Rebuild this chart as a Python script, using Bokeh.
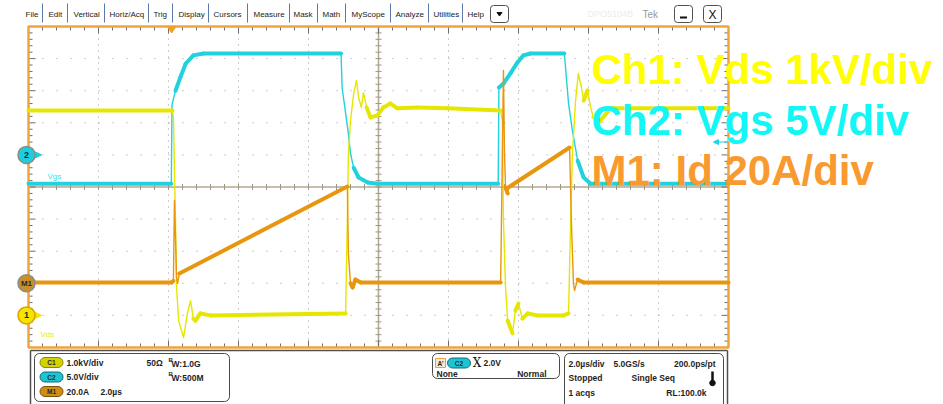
import numpy as np
from bokeh.plotting import figure
from bokeh.models import Range1d
from bokeh.embed import file_html
from bokeh.resources import INLINE
from bokeh.core.properties import value

# ---------------- acquired waveforms (time in µs) ----------------
# Ch1: drain-source voltage, kV
vds_t = [0.00, 4.11, 4.14, 4.20, 4.23, 4.29, 4.43, 4.54, 4.63, 4.71, 4.77, 4.91, 5.20,
         9.06, 9.11, 9.14, 9.20, 9.29, 9.37, 9.43, 9.51, 9.57, 9.66, 9.77, 9.97, 10.14,
         10.34, 10.54, 11.11, 11.97, 13.49, 13.54, 13.57, 13.63, 13.69, 13.83, 13.91,
         14.00, 14.11, 14.26, 14.54, 15.29, 15.43, 15.49, 15.54, 15.63, 15.71, 15.80,
         15.86, 15.97, 16.06, 16.14, 16.34, 16.63, 20.00]
vds_kv = [6.38, 6.38, 6.17, 2.96, 0.87, -0.16, -0.69, 0.06, 0.46, -0.10, -0.16, 0.06, 0.00,
          0.06, 2.96, 5.04, 6.07, 6.91, 7.32, 6.79, 6.48, 6.94, 6.48, 6.17, 6.23, 6.48,
          6.60, 6.45, 6.48, 6.45, 6.38, 6.07, 2.96, 0.87, -0.16, -0.56, 0.15,
          0.37, -0.10, 0.06, 0.00, 0.00, 0.06, 2.96, 5.04, 6.69, 7.54, 7.10,
          6.69, 7.01, 6.48, 6.17, 6.07, 6.45, 6.45]

# Ch2: gate-source voltage, V
vgs_t = [0.00, 4.08, 4.10, 4.20, 4.34, 4.49, 4.71, 5.00, 8.93, 8.96, 9.06, 9.14, 9.20,
         9.29, 9.43, 9.69, 9.97, 13.42, 13.44, 13.57, 13.77, 13.97, 14.14, 14.34, 15.31,
         15.43, 15.54, 15.69, 15.86, 16.06, 20.00]
vgs_v = [-4.5, -4.5, 7.8, 10.0, 12.1, 14.2, 15.5, 15.8, 15.8, 10.5, 6.5, 3.3, 0.2,
         -2.0, -3.5, -4.3, -4.5, -4.5, 10.5, 11.1, 12.7, 14.4, 15.5, 15.8, 15.8,
         8.0, 3.8, -0.9, -3.5, -4.5, -4.5]

# M1: drain current, A
id_t = [0.00, 4.09, 4.14, 4.17, 4.20, 4.23, 4.26, 4.31, 9.11, 9.14, 9.20, 9.26, 9.34,
        9.49, 13.49, 13.57, 13.60, 13.63, 13.69, 13.71, 15.46, 15.51, 15.57, 15.60,
        15.69, 15.86, 20.00]
id_a = [0.5, 0.5, 1.5, 51.6, 28.5, 3.6, 0.0, 6.1, 60.3, 18.6, 0.0, -2.6, 2.3,
        0.5, 0.5, 132.6, 80.9, 59.7, 56.0, 59.7, 84.6, 39.1, 0.0, -4.5,
        2.3, 0.5, 0.5]

# ---------------- scope settings ----------------
TIME_PER_DIV = 2.0                      # µs/div
CH1_SCALE, CH1_POS = 1.0, -4.0          # kV/div, ground position (div)
CH2_SCALE, CH2_POS = 5.0, 1.0           # V/div
M1_SCALE, M1_POS = 20.0, -3.0           # A/div
TRIG_TIME, TRIG_LEVEL = 4.09, 2.0       # µs, V on Ch2

legend_lines = ["Ch1: Vds 1kV/div", "Ch2: Vgs 5V/div", "M1: Id 20A/div"]

menu_items = ["File", "Edit", "Vertical", "Horiz/Acq", "Trig", "Display", "Cursors",
              "Measure", "Mask", "Math", "MyScope", "Analyze", "Utilities", "Help"]

# ---------------- screen geometry ----------------
W, H = 943, 404
GX0, GY0 = 28.0, 186.5                  # graticule left edge / centre line (px)
PX_DIV_X, PX_DIV_Y = 70.0, 32.1
px_us = PX_DIV_X / TIME_PER_DIV

x_lo, x_hi = -GX0 / px_us, (W - GX0) / px_us
y_lo, y_hi = -(H - GY0) / PX_DIV_Y, GY0 / PX_DIV_Y

p = figure(width=W, height=H, output_backend="svg", toolbar_location=None,
           x_range=Range1d(x_lo, x_hi), y_range=Range1d(y_lo, y_hi),
           x_axis_type=None, y_axis_type=None, min_border=0,
           outline_line_color=None, background_fill_color="white",
           border_fill_color="white")
p.extra_x_ranges = {"px": Range1d(0, W)}
p.extra_y_ranges = {"px": Range1d(H, 0)}
PX = dict(x_range_name="px", y_range_name="px")

def dx(n):
    return n / px_us

def dy(n):
    return n / PX_DIV_Y

def label(x, y, s, size=8.5, color="#1e1e1e", style="bold", align="left",
          baseline="middle", font="Liberation Sans", **kw):
    opts = dict(PX)
    opts.update(kw)
    p.text(x=[x], y=[y], text=[s], text_font=value(font),
           text_font_size=f"{size}px", text_font_style=style, text_color=color,
           text_align=align, text_baseline=baseline, **opts)

# ---------------- graticule ----------------
t_end = 10 * TIME_PER_DIV
grid_t = [k * TIME_PER_DIV for k in range(1, 10) if k != 5]
grid_y = [k for k in range(-4, 5) if k != 0]
p.multi_line(xs=[[t, t] for t in grid_t], ys=[[5, -5]] * len(grid_t),
             line_color="#9a9a9a", line_width=1, line_dash="1 5")
p.multi_line(xs=[[0, t_end]] * len(grid_y), ys=[[y, y] for y in grid_y],
             line_color="#9a9a9a", line_width=1, line_dash="1 13")

# centre cross with fine ticks
p.segment(x0=[0, t_end / 2], y0=[0, -5], x1=[t_end, t_end / 2], y1=[0, 5],
          line_color="#b0a796", line_width=1.5)
minor_t = np.arange(0, t_end + 1e-9, TIME_PER_DIV / 5)
minor_y = np.arange(-5, 5 + 1e-9, 0.2)
p.segment(x0=minor_t, y0=-dy(3), x1=minor_t, y1=dy(3), line_color="#a09684", line_width=1)
p.segment(x0=t_end / 2 - dx(3), y0=minor_y, x1=t_end / 2 + dx(3), y1=minor_y,
          line_color="#a09684", line_width=1)

# edge ticks (longer on the division marks)
def is_major(v, step):
    return abs(v / step - round(v / step)) < 1e-6

len_t = np.array([7 if is_major(t, TIME_PER_DIV) else 4 for t in minor_t])
len_y = np.array([7 if is_major(y, 1.0) else 4 for y in minor_y])
tick_col = "#6e6e6e"
p.segment(x0=minor_t, y0=5, x1=minor_t, y1=5 - dy(len_t), line_color=tick_col)
p.segment(x0=minor_t, y0=-5, x1=minor_t, y1=-5 + dy(len_t), line_color=tick_col)
p.segment(x0=0, y0=minor_y, x1=dx(len_y), y1=minor_y, line_color=tick_col)
p.segment(x0=t_end, y0=minor_y, x1=t_end - dx(len_y), y1=minor_y, line_color=tick_col)

# orange frame
p.quad(left=[0], right=[t_end], top=[5], bottom=[-5], fill_color=None,
       line_color="#f0a43a", line_width=2.5)

# ---------------- traces ----------------
vgs_div = [v / CH2_SCALE + CH2_POS for v in vgs_v]
vds_div = [v / CH1_SCALE + CH1_POS for v in vds_kv]
id_div = [v / M1_SCALE + M1_POS for v in id_a]

def trace(t, y, color):
    # fast edges are drawn thin, settled / slow parts as a wider noise band
    p.line(t, y, line_color=color, line_width=1.4, line_join="round")
    xs, ys = [], []
    for i in range(len(t) - 1):
        w = (t[i + 1] - t[i]) * px_us
        h = abs(y[i + 1] - y[i]) * PX_DIV_Y
        if h < 3.0 * w:
            xs.append([t[i], t[i + 1]])
            ys.append([y[i], y[i + 1]])
    p.multi_line(xs=xs, ys=ys, line_color=color, line_width=4, line_join="round",
                 line_cap="round")

trace(vgs_t, vgs_div, "#1fd2de")
trace(vds_t, vds_div, "#e6e600")
trace(id_t, id_div, "#e8960e")

# trigger position (top) and trigger level (right edge)
p.patch(x=[TRIG_TIME - dx(4), TRIG_TIME + dx(4), TRIG_TIME],
        y=[5 - dy(0.5), 5 - dy(0.5), 5 - dy(6.5)], fill_color="#f2a020", line_color="#f2a020")
trig_y = TRIG_LEVEL / CH2_SCALE + CH2_POS
p.patch(x=[t_end - dx(15), t_end - dx(10), t_end - dx(10)],
        y=[trig_y, trig_y + dy(2.5), trig_y - dy(2.5)], fill_color="#19d6e2",
        line_color="#19d6e2")
p.segment(x0=[t_end - dx(11)], y0=[trig_y], x1=[t_end - dx(1)], y1=[trig_y],
          line_color="#19d6e2", line_width=1)

# ground reference markers on the left edge
for pos, fill, edge, txt, arrow in [(CH2_POS, "#1bd0de", "#8c8c8c", "2", True),
                                    (M1_POS, "#c8902a", "#8c8c8c", "M1", False),
                                    (CH1_POS, "#f4e400", "#e0a000", "1", True)]:
    if arrow:
        p.segment(x0=[30], y0=[pos], x1=[36], y1=[pos], line_color=fill,
                  line_width=1.5, x_range_name="px")
        p.patch(x=[35, 41, 35], y=[pos + dy(3), pos, pos - dy(3)], fill_color=fill,
                line_color=fill, x_range_name="px")
    p.scatter(x=[26], y=[pos], size=17, marker="circle", fill_color=fill,
              line_color=edge, line_width=1.5, x_range_name="px")
    p.text(x=[26], y=[pos], text=[txt], text_font=value("Liberation Sans"),
           text_font_size="9px" if len(txt) == 1 else "8px", text_font_style="bold",
           text_color="#1a2a3a", text_align="center", text_baseline="middle",
           x_range_name="px")

label(47, 176, "Vgs", size=8, color="#3fdfe8", style="normal")
label(40, 334, "Vds", size=8, color="#e8e820", style="normal")

# ---------------- menu bar ----------------
menu_x = [25, 48, 73, 109, 153, 178, 213, 253, 293, 322, 351, 395, 433, 467]
menu_sep = [42, 67, 104, 148, 172, 208, 247, 289, 317, 345, 390, 428, 462]
for mx, item in zip(menu_x, menu_items):
    label(mx, 13.5, item, size=8, style="normal", color="#1a1a1a")
p.segment(x0=menu_sep, y0=3, x1=menu_sep, y1=22, line_color="#5a78a8", line_width=1, **PX)

p.quad(left=[490], right=[508], top=[5], bottom=[22], border_radius=3, fill_color="white",
       line_color="#505050", line_width=1, **PX)
p.patch(x=[496.5, 501.5, 499], y=[12, 12, 15.5], fill_color="#111111", line_color="#111111", **PX)
label(587, 13.5, "DPO5104B", size=9, style="normal", color="#ececec")
label(642, 13.5, "Tek", size=10, style="normal", color="#9a9a9a")
for bx in (674, 703):
    p.quad(left=[bx], right=[bx + 18], top=[5], bottom=[22], border_radius=3,
           fill_color="white", line_color="#505050", line_width=1, **PX)
p.segment(x0=[679.5], y0=[17], x1=[686.5], y1=[17], line_color="#111111", line_width=2, **PX)
label(712, 14, "X", size=12, style="normal", color="#111111", align="center")

# ---------------- status panel ----------------
p.segment(x0=[30, 727, 30], y0=[350, 350, 350], x1=[30, 727, 727], y1=[404, 404, 350],
          line_color="#505050", line_width=1.5, **PX)
for l, r, t, b in [(34, 229, 353, 401), (432, 559, 353, 378), (564, 723, 353, 420)]:
    p.quad(left=[l], right=[r], top=[t], bottom=[b], border_radius=5, fill_color="white",
           line_color="#4a4a4a", line_width=1, **PX)

def pill(cx, cy, fill, edge, txt):
    p.quad(left=[cx - 11.5], right=[cx + 11.5], top=[cy - 5], bottom=[cy + 5],
           border_radius=5, fill_color=fill, line_color=edge, line_width=1, **PX)
    label(cx, cy + 0.3, txt, size=6.5, color="#1a2a3a", align="center")

pill(51, 362, "#d6d200", "#8a8600", "C1")
pill(51, 376.5, "#1ec4d2", "#0f6f7c", "C2")
pill(51, 391, "#d08c14", "#7a5208", "M1")
label(66, 362, "1.0kV/div")
label(66, 376.5, "5.0V/div")
label(66, 391, "20.0A")
label(100, 391, "2.0µs")
label(146, 362, "50Ω")
for yy, bw in [(362, ":1.0G"), (376.5, ":500M")]:
    label(168, yy - 3, "B", size=6)
    label(171, yy + 1, "W" + bw, size=8.5)

p.quad(left=[435], right=[445], top=[358], bottom=[367], fill_color="#f2ead8",
       line_color="#e8a040", line_width=1, **PX)
label(440, 362.5, "A'", size=6.5, align="center")
pill(458.5, 362.5, "#1ec4d2", "#0f6f7c", "C2")
label(476.5, 362.5, "X", size=12, style="normal", font="DejaVu Serif", align="center",
      color="#111111")
label(483, 362.5, "2.0V")
label(436, 373.5, "None")
label(546, 373.5, "Normal", align="right")

label(568, 363, "2.0µs/div")
label(613, 363, "5.0GS/s")
label(715, 363, "200.0ps/pt", align="right")
label(568, 377.5, "Stopped")
label(631, 377.5, "Single Seq")
label(568, 392, "1 acqs")
label(706, 392, "RL:100.0k", align="right")
p.segment(x0=[712], y0=[371], x1=[712], y1=[381], line_color="#111111", line_width=2.5, **PX)
p.scatter(x=[712], y=[382.5], size=5.5, marker="circle", fill_color="#111111",
          line_color="#111111", **PX)

# ---------------- channel legend ----------------
for txt, col, base in zip(legend_lines, ["#ffff00", "#12f6f6", "#f89a2f"], [69, 120, 170]):
    label(591, base, txt, size=42, color=col, baseline="alphabetic")

open("out.html", "w").write(file_html(p, INLINE))
